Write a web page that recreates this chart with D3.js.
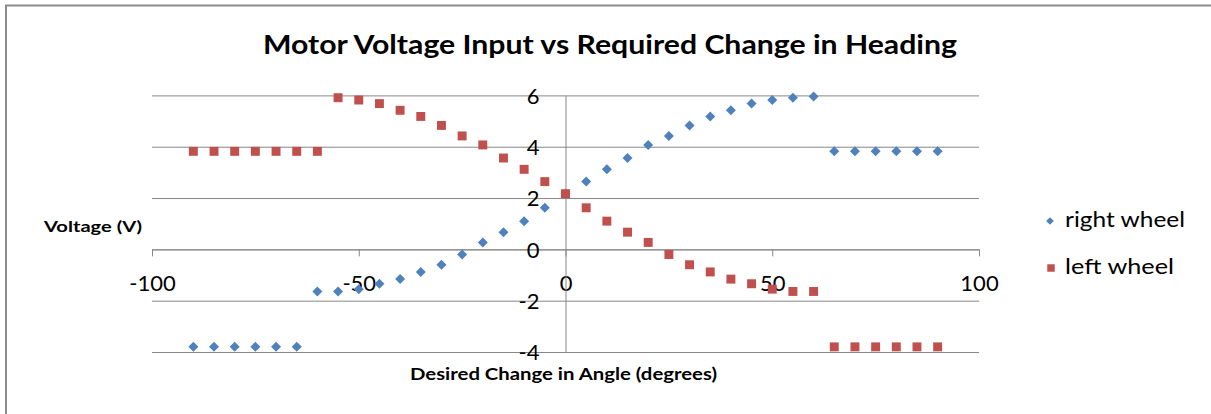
<!DOCTYPE html>
<html>
<head>
<meta charset="utf-8">
<script src="https://cdn.jsdelivr.net/npm/d3@7"></script>
<style>
  body { margin: 0; background: #fff; }
  text { font-family: Lato, "Open Sans", sans-serif; fill: #000; }
</style>
</head>
<body>
<div id="container"></div>
<script>
// data
var angles = [-90, -85, -80, -75, -70, -65, -60, -55, -50, -45, -40, -35, -30, -25, -20, -15, -10, -5,
    0, 5, 10, 15, 20, 25, 30, 35, 40, 45, 50, 55, 60, 65, 70, 75, 80, 85, 90];
var rightWheel = [-3.8, -3.8, -3.8, -3.8, -3.8, -3.8, -1.64, -1.64, -1.55, -1.34, -1.16, -0.88, -0.6, -0.2, 0.27, 0.67, 1.1, 1.62,
    2.17, 2.64, 3.12, 3.56, 4.07, 4.42, 4.83, 5.18, 5.42, 5.68, 5.82, 5.91, 5.96, 3.82, 3.82, 3.82, 3.82, 3.82, 3.82];
var leftWheel = [3.82, 3.82, 3.82, 3.82, 3.82, 3.82, 3.82, 5.91, 5.82, 5.68, 5.42, 5.18, 4.83, 4.42, 4.07, 3.56, 3.12, 2.64,
    2.17, 1.62, 1.1, 0.67, 0.27, -0.2, -0.6, -0.88, -1.16, -1.34, -1.55, -1.64, -1.64, -3.8, -3.8, -3.8, -3.8, -3.8, -3.8];
var xTicks = [-100, -50, 0, 50, 100];
var yTicks = [-4, -2, 0, 2, 4, 6];
var seriesNames = ['right wheel', 'left wheel'];

var width = 1211,
    height = 414;

var svg = d3.select('#container')
    .append('svg')
    .attr('width', width)
    .attr('height', height);

// chart border (cut off at right and bottom)
svg.append('rect')
    .attr('x', 6).attr('y', 5.5)
    .attr('width', 1400).attr('height', 600)
    .attr('fill', 'none')
    .attr('stroke', '#8c8c8c')
    .attr('stroke-width', 2);

var scaleX = d3.scaleLinear().domain([-100, 100]).range([152, 979]);
var scaleY = d3.scaleLinear().domain([-4, 6]).range([352, 95.4]);
var plain = function(d) { return String(d); }; // hyphen minus like excel

// horizontal gridlines
svg.append('g')
    .attr('transform', 'translate(' + scaleX(-100) + ',0)')
    .call(d3.axisLeft(scaleY).tickValues(yTicks).tickSize(-(scaleX(100) - scaleX(-100))).tickFormat(''))
    .call(function(g) { g.select('.domain').remove(); })
    .selectAll('line').attr('stroke', '#878787');

// x axis on y = 0
var xAxis = svg.append('g')
    .attr('transform', 'translate(0,' + scaleY(0) + ')')
    .call(d3.axisBottom(scaleX).tickValues(xTicks).tickFormat(plain).tickSize(7).tickSizeOuter(0));
xAxis.select('.domain').attr('stroke', '#878787');
xAxis.selectAll('line').attr('stroke', '#878787');
xAxis.selectAll('text')
    .attr('y', 34).attr('dy', '0.35em')
    .style('font-size', '22px')
    .style('font-family', 'Lato, sans-serif');

// y axis on x = 0
var yAxis = svg.append('g')
    .attr('transform', 'translate(' + scaleX(0) + ',0)')
    .call(d3.axisLeft(scaleY).tickValues(yTicks).tickFormat(plain).tickSize(0).tickPadding(26));
yAxis.select('.domain').attr('stroke', '#878787');
yAxis.selectAll('text')
    .attr('dy', '0.35em')
    .style('font-size', '22px')
    .style('font-family', 'Lato, sans-serif');

// series
var blue = '#4F81BD', red = '#C0504D';
var diamond = d3.symbol().type(d3.symbolSquare).size(50);
var square = d3.symbol().type(d3.symbolSquare).size(80);

svg.append('g').selectAll('path')
    .data(angles.map(function(a, i) { return [a, rightWheel[i]]; }))
    .enter().append('path')
    .attr('d', diamond)
    .attr('fill', blue)
    .attr('transform', function(d) {
        return 'translate(' + scaleX(d[0]) + ',' + scaleY(d[1]) + ') rotate(45)';
    });

svg.append('g').selectAll('path')
    .data(angles.map(function(a, i) { return [a, leftWheel[i]]; }))
    .enter().append('path')
    .attr('d', square)
    .attr('fill', red)
    .attr('transform', function(d) {
        return 'translate(' + scaleX(d[0]) + ',' + scaleY(d[1]) + ')';
    });

// titles
svg.append('text')
    .attr('x', 263).attr('y', 54)
    .attr('textLength', 694).attr('lengthAdjust', 'spacingAndGlyphs')
    .style('font-size', '26px').style('font-weight', 'bold')
    .text('Motor Voltage Input vs Required Change in Heading');

svg.append('text')
    .attr('x', 44).attr('y', 232)
    .attr('textLength', 98).attr('lengthAdjust', 'spacingAndGlyphs')
    .style('font-size', '16px').style('font-weight', 'bold')
    .text('Voltage (V)');

svg.append('text')
    .attr('x', 410).attr('y', 380)
    .attr('textLength', 307).attr('lengthAdjust', 'spacingAndGlyphs')
    .style('font-size', '17px').style('font-weight', 'bold')
    .text('Desired Change in Angle (degrees)');

// legend
var legend = svg.append('g');
legend.append('path')
    .attr('d', d3.symbol().type(d3.symbolSquare).size(30))
    .attr('fill', blue)
    .attr('transform', 'translate(1050,221) rotate(45)');
legend.append('path')
    .attr('d', d3.symbol().type(d3.symbolSquare).size(56))
    .attr('fill', red)
    .attr('transform', 'translate(1051,268)');
legend.append('text')
    .attr('x', 1065).attr('y', 227)
    .attr('textLength', 120).attr('lengthAdjust', 'spacingAndGlyphs')
    .style('font-size', '22px')
    .text(seriesNames[0]);
legend.append('text')
    .attr('x', 1065).attr('y', 274)
    .attr('textLength', 109).attr('lengthAdjust', 'spacingAndGlyphs')
    .style('font-size', '22px')
    .text(seriesNames[1]);
</script>
</body>
</html>
